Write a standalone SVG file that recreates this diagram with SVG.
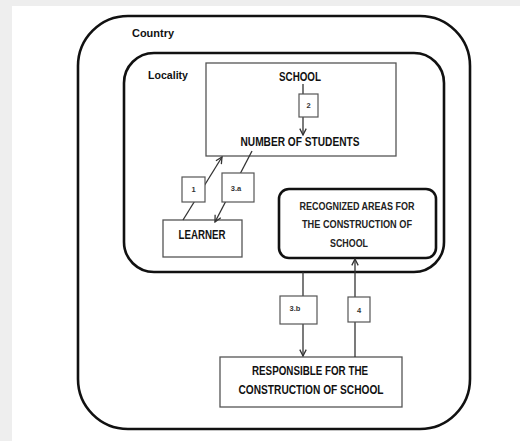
<svg xmlns="http://www.w3.org/2000/svg" width="520" height="441" viewBox="0 0 520 441">
<style>
.bg{fill:#ffffff}
.thick{fill:none;stroke:#111;stroke-width:2.6}
.box{fill:#fff;stroke:#555;stroke-width:1.3}
.lbl{fill:#fff;stroke:#555;stroke-width:1.2}
.con{fill:none;stroke:#333;stroke-width:1.3}
text{font-family:"Liberation Sans",Arial,sans-serif;font-weight:bold;fill:#111}
.t{font-size:12px;text-anchor:middle}
.s{font-size:7.5px;text-anchor:middle;fill:#333}
.r{font-size:10.5px;text-anchor:middle;fill:#222}
</style>
<defs>
<marker id="ah" viewBox="0 0 10 10" refX="9" refY="5" markerWidth="8" markerHeight="8" markerUnits="userSpaceOnUse" orient="auto">
<polyline points="1,1 9,5 1,9" fill="none" stroke="#333" stroke-width="1.6"/>
</marker>
</defs>
<rect x="0" y="0" width="520" height="441" fill="#eeeeee"/>
<rect x="12" y="6" width="508" height="435" class="bg"/>
<g id="country">
<rect x="78" y="16" width="392" height="413" rx="50" class="thick"/>
<text x="132" y="37" style="font-size:11px" textLength="42" lengthAdjust="spacingAndGlyphs">Country</text>
</g>
<g id="locality">
<rect x="124" y="53" width="320" height="219" rx="30" class="thick"/>
<text x="148" y="79" style="font-size:11px" textLength="40" lengthAdjust="spacingAndGlyphs">Locality</text>
</g>
<g id="school">
<rect x="206" y="63" width="190" height="93" class="box"/>
<text x="300" y="81" class="t" textLength="42" lengthAdjust="spacingAndGlyphs">SCHOOL</text>
</g>
<g id="learner">
<rect x="163" y="220" width="79" height="37" class="box"/>
<text x="202" y="239" class="t" textLength="47" lengthAdjust="spacingAndGlyphs">LEARNER</text>
</g>
<g id="recognized">
<rect x="279" y="189" width="157" height="69" rx="10" class="thick"/>
<text x="357" y="210" class="r" textLength="115" lengthAdjust="spacingAndGlyphs">RECOGNIZED AREAS FOR</text>
<text x="357" y="228" class="r" textLength="110" lengthAdjust="spacingAndGlyphs">THE CONSTRUCTION OF</text>
<text x="349" y="247" class="r" textLength="38" lengthAdjust="spacingAndGlyphs">SCHOOL</text>
</g>
<g id="responsible">
<rect x="220" y="357" width="182" height="50" class="box"/>
<text x="310" y="375" class="t" textLength="116" lengthAdjust="spacingAndGlyphs">RESPONSIBLE FOR THE</text>
<text x="311" y="394" class="t" textLength="145" lengthAdjust="spacingAndGlyphs">CONSTRUCTION OF SCHOOL</text>
</g>
<g id="connectors">
<line x1="303" y1="84" x2="303" y2="135" class="con" marker-end="url(#ah)"/>
<line x1="183" y1="220" x2="222" y2="157" class="con" marker-end="url(#ah)"/>
<line x1="252" y1="151" x2="215" y2="222" class="con" marker-end="url(#ah)"/>
<line x1="303" y1="272" x2="303" y2="356" class="con" marker-end="url(#ah)"/>
<line x1="355" y1="357" x2="355" y2="259" class="con" marker-end="url(#ah)"/>
</g>
<g id="labels">
<rect x="299" y="94" width="19" height="23" class="lbl"/>
<text x="308.5" y="108" class="s">2</text>
<rect x="182" y="177" width="23" height="25" class="lbl"/>
<text x="193.5" y="192" class="s">1</text>
<rect x="222" y="173" width="32" height="29" class="lbl"/>
<text x="236" y="191" class="s">3.a</text>
<rect x="280" y="296" width="37" height="28" class="lbl"/>
<text x="295" y="311" class="s">3.b</text>
<rect x="348" y="297" width="22" height="25" class="lbl"/>
<text x="359" y="313" class="s">4</text>
</g>
<text x="300" y="146" class="t" textLength="119" lengthAdjust="spacingAndGlyphs">NUMBER OF STUDENTS</text>
</svg>
